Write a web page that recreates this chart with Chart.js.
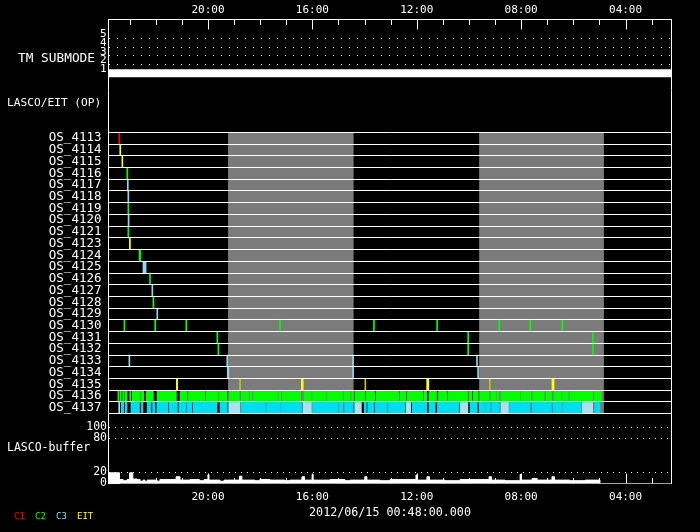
<!DOCTYPE html>
<html>
<head>
<meta charset="utf-8">
<script src="https://cdn.jsdelivr.net/npm/chart.js@4.4.1/dist/chart.umd.min.js"></script>
<style>
  html, body { margin: 0; padding: 0; background: #000; }
  #wrap { position: relative; width: 700px; height: 532px; background: #000; }
  #wrap canvas { position: absolute; left: 0; top: 0; }
</style>
</head>
<body>
<div id="wrap">
  <canvas id="tm" width="700" height="532"></canvas>
  <canvas id="os" width="700" height="532"></canvas>
  <canvas id="buf" width="700" height="532"></canvas>
</div>
<script>
// time axis runs backwards (hours of day, left = later)
const timeMin = 2.24;
const timeMax = 23.81;
const dateLabel = '2012/06/15 00:48:00.000';

// TM submode
const tmTimes = [24, 0];
const tmModes = [1, 1];
const tmTicks = [1, 2, 3, 4, 5];

// LASCO/EIT observing programs
const osLabels = ['OS_4113', 'OS_4114', 'OS_4115', 'OS_4116', 'OS_4117', 'OS_4118', 'OS_4119',
  'OS_4120', 'OS_4121', 'OS_4123', 'OS_4124', 'OS_4125', 'OS_4126', 'OS_4127', 'OS_4128',
  'OS_4129', 'OS_4130', 'OS_4131', 'OS_4132', 'OS_4133', 'OS_4134', 'OS_4135', 'OS_4136', 'OS_4137'];

// [row, time] or [row, start, end]
const c1Marks = [['OS_4113', 23.40]];
const c2Marks = [
  ['OS_4116', 23.09], ['OS_4119', 23.05], ['OS_4121', 23.05],
  ['OS_4124', 22.64, 22.58], ['OS_4126', 22.22], ['OS_4128', 22.09],
  ['OS_4130', 23.20], ['OS_4130', 22.02], ['OS_4130', 20.83], ['OS_4130', 17.24],
  ['OS_4130', 13.64], ['OS_4130', 11.22], ['OS_4130', 8.84], ['OS_4130', 7.65], ['OS_4130', 6.42],
  ['OS_4131', 19.64], ['OS_4131', 10.03], ['OS_4131', 5.25],
  ['OS_4132', 19.60], ['OS_4132', 10.03], ['OS_4132', 5.25]
];
const c3Marks = [
  ['OS_4117', 23.07], ['OS_4118', 23.05], ['OS_4120', 23.04],
  ['OS_4125', 22.49, 22.37], ['OS_4127', 22.13], ['OS_4129', 21.94],
  ['OS_4133', 23.01], ['OS_4133', 19.26], ['OS_4133', 14.44], ['OS_4133', 9.69],
  ['OS_4134', 19.26, 19.20], ['OS_4134', 14.44], ['OS_4134', 9.65]
];
const eitMarks = [
  ['OS_4114', 23.36], ['OS_4115', 23.28], ['OS_4123', 23.01, 22.97],
  ['OS_4135', 21.21, 21.16], ['OS_4135', 16.42, 16.35], ['OS_4135', 11.62, 11.54], ['OS_4135', 6.82, 6.74]
];
const eitDimMarks = [['OS_4135', 18.79, 18.75], ['OS_4135', 13.99, 13.95], ['OS_4135', 9.22, 9.18]];

const os4136Segs = [[23.45, 23.41], [23.36, 23.32], [23.27, 23.23], [23.19, 23.10], [22.99, 22.96],
  [22.90, 22.59], [22.55, 22.46], [22.37, 22.09], [21.95, 21.21], [21.07, 20.80], [20.75, 20.12],
  [20.07, 19.61], [19.58, 19.27], [19.18, 18.80], [18.72, 18.44], [18.38, 18.31], [18.25, 17.34],
  [17.29, 17.21], [17.16, 16.45], [16.32, 16.04], [15.99, 15.49], [15.44, 14.83], [14.78, 14.55],
  [14.49, 14.42], [14.37, 13.99], [13.94, 13.61], [13.55, 12.69], [12.64, 12.42], [12.37, 11.77],
  [11.72, 11.62], [11.53, 11.24], [11.17, 10.84], [10.79, 10.05], [10.00, 9.89], [9.84, 9.64],
  [9.58, 9.23], [9.16, 8.96], [8.91, 8.85], [8.77, 8.04], [7.99, 7.63], [7.56, 7.12], [7.05, 6.83],
  [6.74, 6.46], [6.41, 6.19], [6.13, 5.26], [5.20, 4.93]];
const os4137Segs = [[23.32, 23.23], [23.17, 23.10], [22.95, 22.62], [22.55, 22.49], [22.33, 22.19],
  [22.12, 22.04], [21.96, 21.53], [21.48, 21.17], [21.11, 20.83], [20.79, 20.61], [20.56, 19.66],
  [19.54, 19.26], [18.72, 17.80], [17.75, 17.23], [17.19, 16.42], [15.99, 15.02], [14.97, 14.83],
  [14.76, 14.44], [14.01, 13.93], [13.88, 13.64], [13.59, 13.13], [13.09, 12.45], [12.17, 11.62],
  [11.53, 11.29], [11.21, 10.38], [9.96, 9.68], [9.61, 9.38], [9.35, 9.19], [9.13, 8.84],
  [8.45, 7.66], [7.58, 6.84], [6.77, 6.45], [6.40, 5.71], [5.18, 4.98]];
const os4137Pale = [[23.42, 23.38], [19.19, 18.78], [16.35, 16.04], [14.38, 14.12], [12.40, 12.23],
  [10.33, 10.04], [8.77, 8.49], [5.66, 5.26]];

const grayBands = [[19.23, 14.42], [9.61, 4.83]];

// LASCO buffer
const bufTimes = [23.95, 23.39, 23.25, 23.10, 23.00, 22.88, 22.72, 22.60, 22.49, 22.41, 22.33, 21.95,
  21.84, 21.22, 21.07, 20.69, 20.33, 20.15, 20.00, 19.96, 19.54, 19.38, 18.79, 18.70, 18.20, 18.01,
  17.62, 17.05, 16.86, 16.40, 16.30, 16.01, 15.97, 15.32, 14.75, 14.56, 13.99, 13.91, 13.41, 13.02,
  12.03, 11.99, 11.61, 11.51, 10.92, 10.34, 9.23, 9.14, 8.62, 8.04, 8.00, 7.58, 7.39, 6.82, 6.72,
  6.13, 5.55, 4.98];
const bufLevels = [19, 7, 5, 7, 19, 8, 7, 4, 6, 3, 6, 4, 7, 12, 6, 7, 5, 7, 16, 6, 4, 6, 13, 6, 5, 7,
  6, 5, 6, 12, 6, 16, 6, 7, 5, 6, 12, 6, 5, 7, 15, 6, 12, 6, 5, 7, 12, 6, 5, 16, 6, 9, 6, 12, 6,
  5, 6, 0];
const c1BufTimes = [23.37, 0];
const c1BufLevels = [0, 0];
const bufTicks = [0, 20, 80, 100];

const mono = '"DejaVu Sans Mono", monospace';
const colC1 = '#ff0000', colC2 = '#00ff00', colC3 = '#8fd8f0', colEIT = '#ffff00';

Chart.defaults.color = '#fff';
Chart.defaults.font.family = mono;

function hhmm(v) {
  return String(v).padStart(2, '0') + ':00';
}

function timeScale(extra) {
  return Object.assign({
    type: 'linear', min: timeMin, max: timeMax, reverse: true,
    grid: { display: false, drawTicks: false }, border: { display: false }
  }, extra);
}

// hourly tick marks pointing into the plot
function hourTicks(edge) {
  return {
    id: 'hourTicks',
    afterDraw(chart) {
      const x = chart.scales.x, a = chart.chartArea, ctx = chart.ctx;
      const y0 = edge === 'top' ? a.top : a.bottom;
      const dir = edge === 'top' ? 1 : -1;
      ctx.save();
      ctx.strokeStyle = '#fff';
      ctx.lineWidth = 1;
      for (let h = Math.ceil(x.min); h <= x.max; h++) {
        const px = Math.round(x.getPixelForValue(h)) + 0.5;
        const len = h % 4 === 0 ? 10 : 5.5;
        ctx.beginPath();
        ctx.moveTo(px, y0);
        ctx.lineTo(px, y0 + dir * len);
        ctx.stroke();
      }
      ctx.restore();
    }
  };
}

function frame(top) {
  return {
    id: 'frame',
    afterDraw(chart) {
      const a = chart.chartArea, ctx = chart.ctx;
      const y0 = top === undefined ? a.top : top;
      ctx.save();
      ctx.strokeStyle = '#fff';
      ctx.lineWidth = 1;
      ctx.beginPath();
      ctx.moveTo(a.left, y0); ctx.lineTo(a.left, a.bottom);
      ctx.moveTo(a.right, y0); ctx.lineTo(a.right, a.bottom);
      ctx.stroke();
      ctx.restore();
    }
  };
}

function panelText(items) {
  return {
    id: 'panelText',
    afterDraw(chart) {
      const ctx = chart.ctx;
      ctx.save();
      ctx.textBaseline = 'middle';
      items.forEach(it => {
        ctx.font = it.size + 'px ' + mono;
        ctx.fillStyle = it.color || '#fff';
        ctx.textAlign = it.align || 'left';
        ctx.fillText(it.text, it.x, it.y);
      });
      ctx.restore();
    }
  };
}

const bandsPlugin = {
  id: 'bands',
  beforeDatasetsDraw(chart) {
    const x = chart.scales.x, a = chart.chartArea, ctx = chart.ctx;
    ctx.save();
    ctx.fillStyle = '#7b7b7b';
    grayBands.forEach(([t1, t2]) => {
      const p1 = x.getPixelForValue(t1), p2 = x.getPixelForValue(t2);
      ctx.fillRect(Math.min(p1, p2), a.top, Math.abs(p2 - p1), a.bottom - a.top);
    });
    ctx.restore();
  }
};

// ---------- TM submode panel ----------
new Chart(document.getElementById('tm'), {
  type: 'line',
  data: {
    datasets: [{
      data: tmTimes.map((t, i) => ({ x: t, y: tmModes[i] })),
      borderColor: '#fff', borderWidth: 8, pointRadius: 0, clip: 0
    }]
  },
  options: {
    responsive: false, animation: false,
    layout: { padding: { top: 0, left: 0, right: 28.5, bottom: 441.4 } },
    plugins: { legend: { display: false }, tooltip: { enabled: false } },
    scales: {
      x: timeScale({
        position: 'top',
        afterFit: s => { s.height = 19.5; },
        border: { display: true, color: '#fff', width: 1 },
        ticks: {
          stepSize: 4, includeBounds: false, padding: 3, maxRotation: 0, autoSkip: false,
          color: '#fff', font: { family: mono, size: 11 }, callback: v => hhmm(v)
        }
      }),
      y: {
        min: -1, max: 7.2,
        afterFit: s => { s.width = 108.5; },
        afterBuildTicks: s => { s.ticks = tmTicks.map(v => ({ value: v })); },
        grid: { drawTicks: false, color: c => (c.tick && c.tick.value === 1) ? 'rgba(0,0,0,0)' : '#fff' },
        border: { display: false, dash: [1, 7] },
        ticks: { padding: 2, labelOffset: -4, autoSkip: false, color: '#fff', font: { family: mono, size: 11 } }
      }
    }
  },
  plugins: [hourTicks('top'), frame(), panelText([
    { text: 'TM SUBMODE', x: 95, y: 58.5, align: 'right', size: 12.8 }
  ])]
});

// ---------- OS panel ----------
function markData(marks) {
  return marks.map(m => ({ y: m[0], x: m.length > 2 ? [m[1], m[2]] : [m[1] + 0.019, m[1] - 0.019] }));
}
function segData(row, segs) {
  return segs.map(s => ({ y: row, x: s }));
}
function barSet(data, color) {
  return {
    data, backgroundColor: color, borderWidth: 0, grouped: false,
    barPercentage: 1, categoryPercentage: 1, minBarLength: 1
  };
}

new Chart(document.getElementById('os'), {
  type: 'bar',
  data: {
    labels: osLabels,
    datasets: [
      barSet(markData(c1Marks), colC1),
      barSet(markData(c2Marks), colC2),
      barSet(markData(c3Marks), colC3),
      barSet(markData(eitMarks), colEIT),
      barSet(markData(eitDimMarks), '#c4c400'),
      barSet(segData('OS_4136', os4136Segs), colC2),
      barSet(segData('OS_4137', os4137Segs), '#00dcf2'),
      barSet(segData('OS_4137', os4137Pale), '#a8e2ec')
    ]
  },
  options: {
    indexAxis: 'y', responsive: false, animation: false,
    layout: { padding: { top: 132.3, left: 0, right: 28.5, bottom: 118.3 } },
    plugins: { legend: { display: false }, tooltip: { enabled: false } },
    scales: {
      x: timeScale({ display: false }),
      y: {
        type: 'category', offset: true,
        afterFit: s => { s.width = 108.5; },
        grid: { offset: true, color: '#fff', lineWidth: 1, drawTicks: false, z: 1 },
        border: { display: false },
        ticks: { padding: 7, autoSkip: false, color: '#fff', font: { family: mono, size: 12.5 } }
      }
    }
  },
  plugins: [bandsPlugin, frame(90.6), panelText([
    { text: 'LASCO/EIT (OP)', x: 7, y: 103, size: 11.2 }
  ])]
});

// ---------- LASCO buffer panel ----------
new Chart(document.getElementById('buf'), {
  type: 'line',
  data: {
    datasets: [
      {
        data: bufTimes.map((t, i) => ({ x: t, y: bufLevels[i] })),
        stepped: true, fill: 'origin', backgroundColor: '#fff', borderColor: '#fff',
        borderWidth: 1, pointRadius: 0
      },
      {
        data: c1BufTimes.map((t, i) => ({ x: t, y: c1BufLevels[i] })),
        borderColor: colC1, borderWidth: 1, pointRadius: 0, fill: false
      }
    ]
  },
  options: {
    responsive: false, animation: false,
    layout: { padding: { top: 413.7, left: 0, right: 28.5, bottom: 0 } },
    plugins: { legend: { display: false }, tooltip: { enabled: false } },
    scales: {
      x: timeScale({
        position: 'bottom',
        afterFit: s => { s.height = 48.5; },
        border: { display: true, color: '#fff', width: 1 },
        ticks: {
          stepSize: 4, includeBounds: false, padding: 7, maxRotation: 0, autoSkip: false,
          color: '#fff', font: { family: mono, size: 11 }, callback: v => hhmm(v)
        },
        title: {
          display: true, text: dateLabel, color: '#fff',
          font: { family: mono, size: 11.7 }, padding: { top: 0, bottom: 12 }
        }
      }),
      y: {
        min: 0, max: 124,
        afterFit: s => { s.width = 108.5; },
        afterBuildTicks: s => { s.ticks = bufTicks.map(v => ({ value: v })); },
        grid: { drawTicks: false, color: c => (c.tick && c.tick.value === 0) ? 'rgba(0,0,0,0)' : '#fff' },
        border: { display: false, dash: [1, 5] },
        ticks: { padding: 1.5, autoSkip: false, color: '#fff', font: { family: mono, size: 11.5 } }
      }
    }
  },
  plugins: [hourTicks('bottom'), frame(), panelText([
    { text: 'LASCO-buffer', x: 7, y: 448, size: 11.5 },
    { text: 'C1', x: 14, y: 516.7, size: 9, color: colC1 },
    { text: 'C2', x: 35, y: 516.7, size: 9, color: colC2 },
    { text: 'C3', x: 56, y: 516.7, size: 9, color: colC3 },
    { text: 'EIT', x: 77, y: 516.7, size: 9, color: colEIT }
  ])]
});
</script>
</body>
</html>
